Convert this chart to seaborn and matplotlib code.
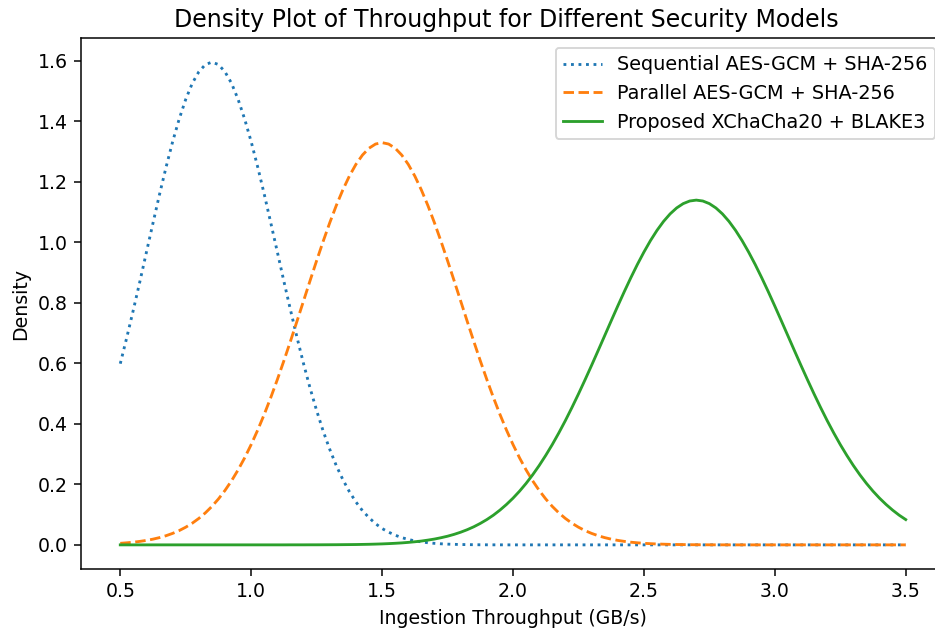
import numpy as np
import pandas as pd
import matplotlib
matplotlib.use("Agg")
import matplotlib.pyplot as plt
import seaborn as sns

# Sampling positions along the throughput axis (GB/s), every 0.025
throughput = np.round(np.linspace(0.5, 3.5, 121), 3)

series_names = [
    "Sequential AES-GCM + SHA-256",
    "Parallel AES-GCM + SHA-256",
    "Proposed XChaCha20 + BLAKE3",
]

sequential_density = [
    0.599, 0.686, 0.777, 0.871, 0.968, 1.064, 1.159, 1.249, 1.333, 1.408,
    1.473, 1.526, 1.564, 1.588, 1.596, 1.588, 1.564, 1.526, 1.473, 1.408,
    1.333, 1.249, 1.159, 1.064, 0.968, 0.871, 0.777, 0.686, 0.599, 0.518,
    0.444, 0.376, 0.316, 0.262, 0.216, 0.176, 0.142, 0.113, 0.090, 0.070,
    0.054, 0.042, 0.032, 0.024, 0.018, 0.013, 0.010, 0.007, 0.005, 0.0035,
    0.0024, 0.0017, 0.0012, 0.0008, 0.0005, 0.0003, 0.0002, 0.0001, 0.0001, 0,
    0, 0, 0, 0, 0, 0, 0, 0, 0, 0,
    0, 0, 0, 0, 0, 0, 0, 0, 0, 0,
    0, 0, 0, 0, 0, 0, 0, 0, 0, 0,
    0, 0, 0, 0, 0, 0, 0, 0, 0, 0,
    0, 0, 0, 0, 0, 0, 0, 0, 0, 0,
    0, 0, 0, 0, 0, 0, 0, 0, 0, 0,
    0,
]

parallel_density = [
    0.0051, 0.0068, 0.0088, 0.0115, 0.0148, 0.0189, 0.0240, 0.0303, 0.0380, 0.0472,
    0.0584, 0.0717, 0.0874, 0.1058, 0.1272, 0.1518, 0.1800, 0.2119, 0.2478, 0.2876,
    0.3317, 0.3797, 0.4317, 0.4875, 0.5467, 0.6088, 0.6733, 0.7395, 0.8066, 0.8737,
    0.9397, 1.0037, 1.0648, 1.1218, 1.1735, 1.2193, 1.2580, 1.2888, 1.3114, 1.3252,
    1.3298, 1.3252, 1.3114, 1.2888, 1.2580, 1.2193, 1.1735, 1.1218, 1.0648, 1.0037,
    0.9397, 0.8737, 0.8066, 0.7395, 0.6733, 0.6088, 0.5467, 0.4875, 0.4317, 0.3797,
    0.3317, 0.2876, 0.2478, 0.2119, 0.1800, 0.1518, 0.1272, 0.1058, 0.0874, 0.0717,
    0.0584, 0.0472, 0.0380, 0.0303, 0.0240, 0.0189, 0.0148, 0.0115, 0.0088, 0.0068,
    0.0051, 0.0039, 0.0029, 0.0022, 0.0016, 0.0012, 0.0009, 0.0006, 0.0004, 0.0003,
    0.0002, 0.0001, 0.0001, 0, 0, 0, 0, 0, 0, 0,
    0, 0, 0, 0, 0, 0, 0, 0, 0, 0,
    0, 0, 0, 0, 0, 0, 0, 0, 0, 0,
    0,
]

proposed_density = [
    0, 0, 0, 0, 0, 0, 0, 0, 0, 0,
    0, 0, 0, 0, 0, 0, 0, 0, 0, 0,
    0, 0, 0, 0, 0, 0, 0.0001, 0.0001, 0.0001, 0.0002,
    0.0002, 0.0003, 0.0004, 0.0005, 0.0007, 0.0009, 0.0011, 0.0015, 0.0019, 0.0025,
    0.0032, 0.0041, 0.0052, 0.0065, 0.0082, 0.0102, 0.0126, 0.0157, 0.0192, 0.0236,
    0.0286, 0.0347, 0.0418, 0.0501, 0.0597, 0.0709, 0.0836, 0.0981, 0.1148, 0.1335,
    0.1543, 0.1775, 0.2032, 0.2315, 0.2623, 0.2958, 0.3316, 0.3701, 0.4108, 0.4539,
    0.4988, 0.5454, 0.5932, 0.6420, 0.6913, 0.7406, 0.7894, 0.8371, 0.8831, 0.9270,
    0.9680, 1.0059, 1.0398, 1.0694, 1.0942, 1.1139, 1.1282, 1.1369, 1.1398, 1.1369,
    1.1282, 1.1139, 1.0942, 1.0694, 1.0398, 1.0059, 0.9680, 0.9270, 0.8831, 0.8371,
    0.7894, 0.7406, 0.6913, 0.6420, 0.5932, 0.5454, 0.4988, 0.4539, 0.4108, 0.3701,
    0.3316, 0.2958, 0.2623, 0.2315, 0.2032, 0.1775, 0.1543, 0.1335, 0.1148, 0.0981,
    0.0836,
]

series_values = [sequential_density, parallel_density, proposed_density]
for v in series_values:
    assert len(v) == len(throughput), len(v)

colors = ["#1f77b4", "#ff7f0e", "#2ca02c"]
linestyles = [":", "--", "-"]

fig = plt.figure(figsize=(935 / 136, 629 / 136), dpi=136)
ax = fig.add_axes([81 / 935, 60 / 629, (945 - 81) / 935, (569 - 38) / 629])

for name, vals, c, ls in zip(series_names, series_values, colors, linestyles):
    df = pd.DataFrame({"x": throughput, "y": vals})
    sns.lineplot(data=df, x="x", y="y", ax=ax, color=c, linestyle=ls,
                 label=name, linewidth=1.5)

ax.set_title("Density Plot of Throughput for Different Security Models",
             fontsize=12.5, x=0.492)
ax.set_xlabel("Ingestion Throughput (GB/s)")
ax.set_ylabel("Density")
ax.set_xticks([0.5, 1.0, 1.5, 2.0, 2.5, 3.0, 3.5])
ax.set_yticks([0.0, 0.2, 0.4, 0.6, 0.8, 1.0, 1.2, 1.4, 1.6])
ax.legend(loc="upper right", fontsize=10.2)

fig.savefig("out.png", dpi=136)
